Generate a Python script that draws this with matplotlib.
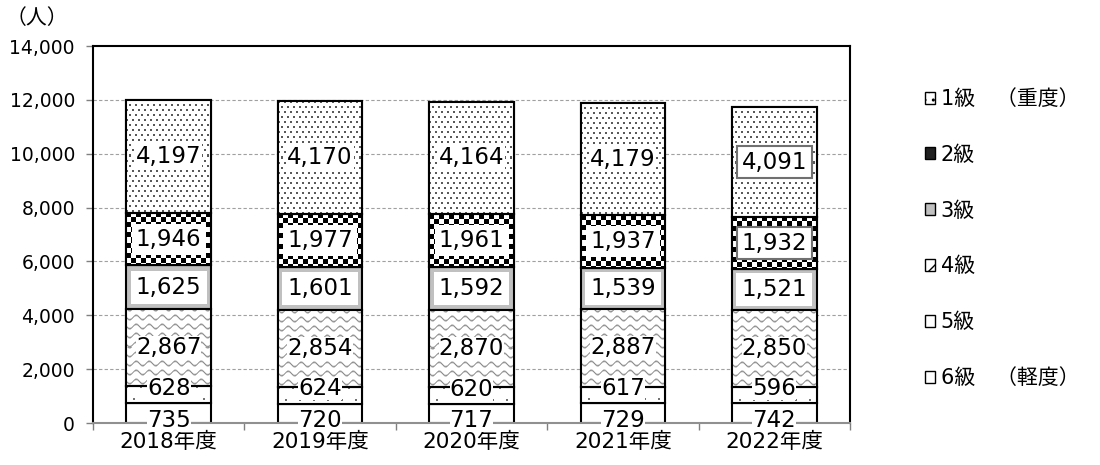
import numpy as np
import matplotlib
matplotlib.use("Agg")
import matplotlib.pyplot as plt
from matplotlib.patches import Patch

plt.rcParams['font.family'] = ['DejaVu Sans', 'Noto Sans CJK JP']

categories = ["2018年度", "2019年度", "2020年度", "2021年度", "2022年度"]
grade1 = [4197, 4170, 4164, 4179, 4091]
grade2 = [1946, 1977, 1961, 1937, 1932]
grade3 = [1625, 1601, 1592, 1539, 1521]
grade4 = [2867, 2854, 2870, 2887, 2850]
grade5 = [628, 624, 620, 617, 596]
grade6 = [735, 720, 717, 729, 742]
legend_labels = ["1級　（重度）", "2級", "3級", "4級", "5級", "6級　（軽度）"]
yticks = [0, 2000, 4000, 6000, 8000, 10000, 12000, 14000]

fig = plt.figure(figsize=(11, 4.65), dpi=100)
ax = fig.add_axes([93/1100, 1-423/465, (850-93)/1100, (423-46)/465])

x = np.arange(len(categories))
width = 0.56
series_bottom_up = [grade6, grade5, grade4, grade3, grade2, grade1]
facecolors = ['white', 'white', 'white', '#c0c0c0', 'white', 'white']
textures = [None, 'sparse_dots', 'wavy', None, 'checker', 'dots']

bottom = np.zeros(len(categories))
containers = []
for vals, fc in zip(series_bottom_up, facecolors):
    c = ax.bar(x, vals, width, bottom=bottom, facecolor=fc, edgecolor='black',
               linewidth=1.5, zorder=2)
    containers.append(c)
    bottom = bottom + np.array(vals)

ax.set_xlim(-0.5, len(categories) - 0.5)
ax.set_ylim(0, 14000)
fig.canvas.draw()


def tex_checker(ny, nx, s=5):
    yy, xx = np.mgrid[0:ny, 0:nx]
    return (((yy // s) + (xx // s)) % 2).astype(float)


def tex_dots(ny, nx, px, py, val):
    img = np.ones((ny, nx))
    yy, xx = np.mgrid[0:ny, 0:nx]
    row = yy // py
    shift = (row % 2) * (px // 2)
    mask = (((xx + shift) % px) < 2) & ((yy % py) < 2)
    img[mask] = val
    return img


def tex_wavy(ny, nx):
    yy, xx = np.mgrid[0:ny, 0:nx]
    period, amp, gap = 13.0, 2.2, 9.0
    d = (yy - amp * np.sin(2 * np.pi * xx / period)) % gap
    d = np.minimum(d, gap - d)
    return np.clip(0.55 + 0.45 * (d / 1.5), 0.55, 1.0)


for idx, kind in enumerate(textures):
    if kind is None:
        continue
    for rect in containers[idx].patches:
        x0, y0, w, h = rect.get_x(), rect.get_y(), rect.get_width(), rect.get_height()
        p0 = ax.transData.transform((x0, y0))
        p1 = ax.transData.transform((x0 + w, y0 + h))
        nx = max(int(round(p1[0] - p0[0])), 2)
        ny = max(int(round(p1[1] - p0[1])), 2)
        if kind == 'checker':
            img = tex_checker(ny, nx, 5)
        elif kind == 'dots':
            img = tex_dots(ny, nx, 6, 5, 0.35)
        elif kind == 'sparse_dots':
            img = tex_dots(ny, nx, 14, 12, 0.45)
        else:
            img = tex_wavy(ny, nx)
        im = ax.imshow(img, extent=(x0, x0 + w, y0, y0 + h), origin='upper', cmap='gray',
                       vmin=0, vmax=1, aspect='auto', interpolation='nearest', zorder=2.1)
        im.set_clip_path(rect)
        ax.bar(rect.get_x() + rect.get_width() / 2, rect.get_height(), rect.get_width(),
               bottom=rect.get_y(), facecolor='none', edgecolor='black', linewidth=1.5, zorder=2.2)

ax.set_xlim(-0.5, len(categories) - 0.5)
ax.set_ylim(0, 14000)

# value labels
label_fs = 16.5
for i, c in enumerate(containers):
    labs = [f"{v:,}" for v in series_bottom_up[i]]
    texts = ax.bar_label(c, labels=labs, label_type='center', fontsize=label_fs,
                         bbox=dict(facecolor='white', edgecolor='none', pad=0.3))
    for t in texts:
        t.set_zorder(5 + (1 if i == 1 else 0))
        bp = t.get_bbox_patch()
        if i == 3:
            bp.set_boxstyle('square', pad=0.22)
        elif i == 4:
            bp.set_boxstyle('square', pad=0.18)
        elif i == 5:
            bp.set_boxstyle('square', pad=0.03)
        else:
            bp.set_boxstyle('square', pad=0.0)
        if i == 1:
            t.xyann = (0, 4.5)
        elif i == 0:
            t.xyann = (0, -5.5)
    if i in (4, 5):
        bp = texts[-1].get_bbox_patch()
        bp.set_edgecolor('#707070')
        bp.set_linewidth(1.5)
        bp.set_boxstyle('square', pad=0.2)

# axes styling
ax.set_yticks(yticks)
ax.set_yticklabels([f"{v:,}" for v in yticks], fontsize=13.5)
ax.set_xticks(x)
ax.set_xticklabels(categories, fontsize=15.5)
ax.tick_params(axis='x', length=0, pad=6)
ax.set_xticks(np.arange(-0.5, len(categories)), minor=True)
ax.tick_params(axis='x', which='minor', length=5, color='#808080', width=1)
ax.tick_params(axis='y', length=5, color='#808080', width=1, pad=8)
for yv in yticks[1:-1]:
    ax.axhline(yv, color='#a0a0a0', linestyle=(0, (3, 2)), linewidth=0.8, zorder=1)
for s in ['left', 'top', 'right']:
    ax.spines[s].set_color('black')
    ax.spines[s].set_linewidth(1.5)
ax.spines['bottom'].set_color('#909090')
ax.spines['bottom'].set_linewidth(1.5)

fig.text(6/1100, 1-18/465, "（人）", fontsize=15, va='center', ha='left')

handles = [
    Patch(facecolor='white', edgecolor='black', hatch='..'),
    Patch(facecolor='#202020', edgecolor='black'),
    Patch(facecolor='#c0c0c0', edgecolor='black'),
    Patch(facecolor='white', edgecolor='black', hatch='//'),
    Patch(facecolor='white', edgecolor='black'),
    Patch(facecolor='white', edgecolor='black'),
]
plt.rcParams['hatch.color'] = '#707070'
fig.legend(handles, legend_labels, loc='upper left', bbox_to_anchor=(925/1100, 1-89/465),
           frameon=False, fontsize=15, handlelength=0.5, handleheight=0.5,
           handletextpad=0.25, labelspacing=1.72, borderaxespad=0, borderpad=0)

fig.savefig("out.png", dpi=100)
